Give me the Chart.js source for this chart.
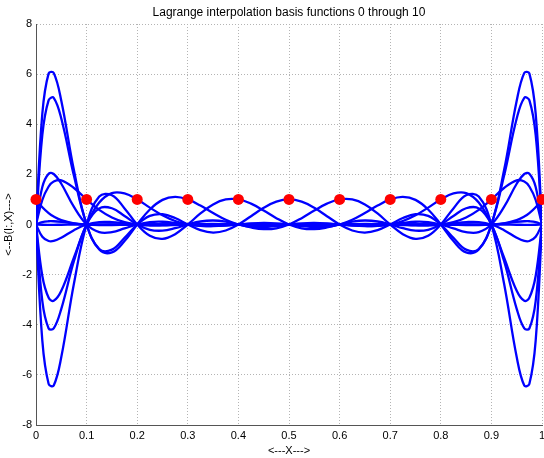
<!DOCTYPE html>
<html>
<head>
<meta charset="utf-8">
<script src="https://cdn.jsdelivr.net/npm/chart.js@4/dist/chart.umd.min.js"></script>
<style>
  html, body { margin: 0; padding: 0; background: #fff; }
  #plot { display: block; }
</style>
</head>
<body>
<canvas id="plot" width="544" height="458"></canvas>
<script>
// sample positions along x (denser near the ends where the wiggles are big)
const xs = [0, 0.0125, 0.025, 0.035, 0.05, 0.075, 0.1, 0.125, 0.15, 0.175, 0.2, 0.225, 0.25, 0.275, 0.3, 0.325, 0.35, 0.375, 0.4, 0.425, 0.45, 0.475, 0.5,
    0.525, 0.55, 0.575, 0.6, 0.625, 0.65, 0.675, 0.7, 0.725, 0.75, 0.775, 0.8, 0.825, 0.85, 0.875, 0.9, 0.925, 0.95, 0.965, 0.975, 0.9875, 1];

const b0 = [1, 0.685, 0.455, 0.319, 0.176, 0.049, 0, -0.012, -0.009, -0.004, 0, 0.002, 0.002, 0.001, 0, 0, -0.001, 0, 0, 0, 0, 0, 0,
    0, 0, 0, 0, 0, 0, 0, 0, 0, -0.001, 0, 0, 0.001, 0.002, 0.002, 0, -0.004, -0.009, -0.012, -0.012, -0.009, 0];
const b1 = [0, 0.978, 1.516, 1.717, 1.762, 1.458, 1, 0.583, 0.278, 0.092, 0, -0.030, -0.027, -0.013, 0, 0.007, 0.008, 0.004, 0, -0.003, -0.004, -0.002, 0,
    0.002, 0.003, 0.002, 0, -0.002, -0.003, -0.003, 0, 0.004, 0.006, 0.006, 0, -0.010, -0.019, -0.019, 0, 0.044, 0.104, 0.129, 0.130, 0.096, 0];
const b2 = [0, -2.054, -2.923, -3.044, -2.643, -1.312, 0, 0.874, 1.252, 1.241, 1, 0.674, 0.368, 0.138, 0, -0.057, -0.057, -0.031, 0, 0.020, 0.024, 0.015, 0,
    -0.013, -0.017, -0.012, 0, 0.013, 0.019, 0.015, 0, -0.020, -0.033, -0.029, 0, 0.050, 0.096, 0.097, 0, -0.226, -0.529, -0.657, -0.660, -0.489, 0];
const b3 = [0, 3.571, 4.960, 5.055, 4.229, 1.943, 0, -0.999, -1.113, -0.662, 0, 0.600, 0.982, 1.103, 1, 0.754, 0.458, 0.190, 0, -0.095, -0.106, -0.062, 0,
    0.048, 0.063, 0.043, 0, -0.044, -0.065, -0.050, 0, 0.065, 0.109, 0.095, 0, -0.158, -0.304, -0.304, 0, 0.700, 1.626, 2.014, 2.021, 1.493, 0];
const b4 = [0, -4.637, -6.365, -6.422, -5.286, -2.355, 0, 1.113, 1.168, 0.643, 0, -0.450, -0.573, -0.386, 0, 0.440, 0.802, 0.998, 1, 0.831, 0.555, 0.253, 0,
    -0.152, -0.185, -0.119, 0, 0.111, 0.160, 0.120, 0, -0.148, -0.245, -0.210, 0, 0.341, 0.649, 0.644, 0, -1.458, -3.364, -4.149, -4.151, -3.058, 0];
const b5 = [0, 4.423, 6.030, 6.050, 4.934, 2.161, 0, -0.979, -1.002, -0.535, 0, 0.343, 0.412, 0.257, 0, -0.226, -0.321, -0.240, 0, 0.332, 0.666, 0.911, 1,
    0.911, 0.666, 0.332, 0, -0.240, -0.321, -0.226, 0, 0.257, 0.412, 0.343, 0, -0.535, -1.002, -0.979, 0, 2.161, 4.934, 6.050, 6.030, 4.423, 0];
const b6 = [0, -3.058, -4.151, -4.149, -3.364, -1.458, 0, 0.644, 0.649, 0.341, 0, -0.210, -0.245, -0.148, 0, 0.120, 0.160, 0.111, 0, -0.119, -0.185, -0.152, 0,
    0.253, 0.555, 0.831, 1, 0.998, 0.802, 0.440, 0, -0.386, -0.573, -0.450, 0, 0.643, 1.168, 1.113, 0, -2.355, -5.286, -6.422, -6.365, -4.637, 0];
const b7 = [0, 1.493, 2.021, 2.014, 1.626, 0.700, 0, -0.304, -0.304, -0.158, 0, 0.095, 0.109, 0.065, 0, -0.050, -0.065, -0.044, 0, 0.043, 0.063, 0.048, 0,
    -0.062, -0.106, -0.095, 0, 0.190, 0.458, 0.754, 1, 1.103, 0.982, 0.600, 0, -0.662, -1.113, -0.999, 0, 1.943, 4.229, 5.055, 4.960, 3.571, 0];
const b8 = [0, -0.489, -0.660, -0.657, -0.529, -0.226, 0, 0.097, 0.096, 0.050, 0, -0.029, -0.033, -0.020, 0, 0.015, 0.019, 0.013, 0, -0.012, -0.017, -0.013, 0,
    0.015, 0.024, 0.020, 0, -0.031, -0.057, -0.057, 0, 0.138, 0.368, 0.674, 1, 1.241, 1.252, 0.874, 0, -1.312, -2.643, -3.044, -2.923, -2.054, 0];
const b9 = [0, 0.096, 0.130, 0.129, 0.104, 0.044, 0, -0.019, -0.019, -0.010, 0, 0.006, 0.006, 0.004, 0, -0.003, -0.003, -0.002, 0, 0.002, 0.003, 0.002, 0,
    -0.002, -0.004, -0.003, 0, 0.004, 0.008, 0.007, 0, -0.013, -0.027, -0.030, 0, 0.092, 0.278, 0.583, 1, 1.458, 1.762, 1.717, 1.516, 0.978, 0];
const b10 = [0, -0.009, -0.012, -0.012, -0.009, -0.004, 0, 0.002, 0.002, 0.001, 0, 0, -0.001, 0, 0, 0, 0, 0, 0, 0, 0, 0, 0,
    0, 0, 0, 0, 0, -0.001, 0, 0, 0.001, 0.002, 0.002, 0, -0.004, -0.009, -0.012, 0, 0.049, 0.176, 0.319, 0.455, 0.685, 1];

// interpolation nodes (red dots)
const nodeX = [0, 0.1, 0.2, 0.3, 0.4, 0.5, 0.6, 0.7, 0.8, 0.9, 1];
const nodeY = [1, 1, 1, 1, 1, 1, 1, 1, 1, 1, 1];

const titleText = 'Lagrange interpolation basis functions 0 through 10';
const xTitle = '<---X--->';
const yTitle = '<--B(I:,X)--->';

Chart.defaults.font.family = '"Liberation Sans", Arial, sans-serif';
Chart.defaults.font.size = 11;
Chart.defaults.color = '#000';

const curves = [b0, b1, b2, b3, b4, b5, b6, b7, b8, b9, b10];
const datasets = [{
    label: 'nodes',
    data: nodeX.map((x, i) => ({ x: x, y: nodeY[i] })),
    showLine: false,
    clip: false,
    pointRadius: 5.5,
    pointBackgroundColor: '#ff0000',
    pointBorderWidth: 0,
}];
curves.forEach((c, k) => {
    datasets.push({
        label: 'B' + k,
        data: xs.map((x, i) => ({ x: x, y: c[i] })),
        borderColor: '#0000ff',
        borderWidth: 2.3,
        pointRadius: 0,
        tension: 0.4,
        fill: false,
    });
});

const gridStyle = { color: '#b4b4b4', lineWidth: 1, drawTicks: false };

new Chart(document.getElementById('plot'), {
    type: 'line',
    data: { datasets: datasets },
    options: {
        responsive: false,
        animation: false,
        layout: { autoPadding: false, padding: { right: 2 } },
        plugins: {
            legend: { display: false },
            tooltip: { enabled: false },
            title: {
                display: true,
                text: titleText,
                fullSize: false,
                font: { size: 12, weight: 'normal' },
                padding: { top: 5, bottom: 4.6 },
            },
        },
        scales: {
            x: {
                type: 'linear',
                min: 0,
                max: 1,
                grid: gridStyle,
                border: { color: '#555', dash: [1, 2] },
                ticks: { stepSize: 0.1, padding: 4, maxRotation: 0, callback: (v) => +v.toFixed(1) },
                title: { display: true, text: xTitle, padding: 0 },
                afterFit: (s) => { s.height = 33; s.paddingLeft = 0; s.paddingRight = 0; },
            },
            y: {
                min: -8,
                max: 8,
                grid: gridStyle,
                border: { color: '#555', dash: [1, 2] },
                ticks: { stepSize: 2, padding: 4 },
                title: { display: true, text: yTitle, padding: { top: 2, bottom: 0 } },
                afterFit: (s) => { s.width = 36; },
            },
        },
    },
});
</script>
</body>
</html>
